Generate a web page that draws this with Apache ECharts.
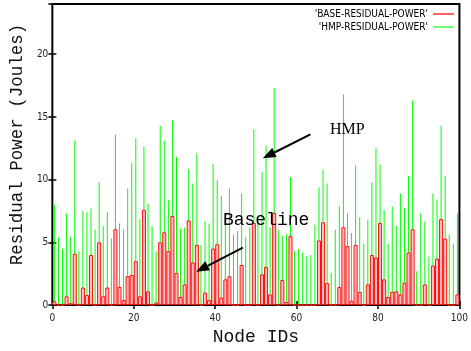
<!DOCTYPE html>
<html><head><meta charset="utf-8">
<script src="https://cdn.jsdelivr.net/npm/echarts@6/dist/echarts.min.js"></script>
<style>html,body{margin:0;padding:0;background:#fff}#c{width:471px;height:351px}</style>
</head><body><div id="c"></div>
<script>
// Residual power per node (Joules), node IDs 0..99
const baseResidual = [
  0.3, 0, 0, 0.7, 0.15, 4.1, 0, 1.4, 0.8, 4.0,
  0, 5.0, 0.7, 1.4, 0, 6.05, 1.45, 0.4, 2.3, 2.4,
  3.5, 0.7, 7.6, 1.1, 0, 0.2, 5.0, 5.8, 4.3, 7.1,
  2.55, 0.65, 1.65, 6.75, 3.4, 4.8, 0, 1.0, 0.4, 4.5,
  4.85, 0.6, 2.05, 2.3, 0, 0, 3.2, 0, 0, 6.55,
  0, 2.45, 3.05, 0.85, 7.35, 0, 2.0, 0.25, 5.5, 0,
  0, 0, 0, 0, 0, 5.15, 6.6, 1.75, 0, 0,
  1.45, 6.2, 4.7, 0.35, 4.8, 1.05, 0, 1.65, 4.0, 3.8,
  6.55, 2.05, 0.65, 1.05, 1.1, 0.85, 1.8, 4.2, 6.05, 0,
  0, 1.65, 0, 3.15, 3.7, 6.85, 5.3, 0, 0, 0.85
];
const hmpResidual = [
  8.0, 5.4, 4.5, 7.3, 5.45, 13.1, 4.3, 7.5, 7.4, 7.7,
  6.0, 9.8, 6.3, 7.4, 5.3, 13.6, 6.5, 6.0, 9.3, 11.3,
  13.3, 6.85, 12.65, 8.1, 6.3, 4.3, 14.3, 13.1, 8.35, 14.75,
  11.8, 6.1, 6.2, 10.85, 9.7, 12.1, 4.8, 6.7, 6.5, 11.25,
  9.95, 8.7, 6.6, 9.3, 5.6, 5.9, 8.9, 5.45, 6.2, 14.0,
  6.9, 10.6, 12.7, 6.2, 17.3, 6.0, 5.5, 5.65, 10.2, 4.3,
  4.5, 4.2, 3.9, 4.0, 6.4, 9.4, 10.8, 9.7, 2.55, 6.0,
  7.9, 16.8, 7.3, 5.75, 11.1, 7.0, 4.9, 6.8, 9.8, 12.5,
  11.2, 7.6, 4.9, 7.85, 6.3, 8.9, 7.75, 10.3, 16.3, 2.7,
  7.3, 6.65, 3.85, 8.9, 8.4, 14.3, 10.3, 5.6, 4.9, 7.3
];
const nodeIds = baseResidual.map((_, i) => String(i));
const seriesNames = ["'BASE-RESIDUAL-POWER'", "'HMP-RESIDUAL-POWER'"];
const xRange = [0, 100], xStep = 20;
const yRange = [0, 24], yStep = 5;

// annotation anchors in data coordinates
const hmpLabel = {text: 'HMP', at: [68.2, 14.0]};
const hmpArrow = {from: [63.4, 13.6], to: [51.7, 11.7]};
const baseLabel = {text: 'Baseline', at: [41.9, 6.75]};
const baseArrow = {from: [46.8, 4.58], to: [35.3, 2.66]};

const chart = echarts.init(document.getElementById('c'), null, {renderer: 'canvas'});
const narrow = "'Liberation Sans Narrow','DejaVu Sans Condensed',sans-serif";
const mono = "'Liberation Mono','DejaVu Sans Mono',monospace";
const tick = {show: true, inside: true, length: 4, lineStyle: {color: '#000', width: 1.5}};
const hiddenCat = {type: 'category', data: nodeIds, boundaryGap: true, show: false};

chart.setOption({
  animation: false,
  backgroundColor: '#fff',
  grid: {left: 52, right: 9, top: 4, bottom: 38, show: true, borderColor: '#000', borderWidth: 2, backgroundColor: 'transparent'},
  legend: {
    orient: 'vertical', right: 17, top: 8, align: 'right', padding: 0,
    itemWidth: 21, itemHeight: 1.5, itemGap: 1, icon: 'rect',
    textStyle: {fontFamily: narrow, fontSize: 10, color: '#000', lineHeight: 12},
    data: [
      {name: seriesNames[0], itemStyle: {color: '#ff3030', borderWidth: 0}},
      {name: seriesNames[1], itemStyle: {color: '#40ff40', borderWidth: 0}}
    ]
  },
  xAxis: [
    {type: 'value', position: 'bottom', min: xRange[0], max: xRange[1], interval: xStep,
     axisLine: {show: false}, splitLine: {show: false}, axisTick: tick,
     axisLabel: {fontFamily: narrow, fontSize: 10, color: '#222', margin: 8},
     name: 'Node IDs', nameLocation: 'middle', nameGap: 22,
     nameTextStyle: {fontFamily: mono, fontSize: 18, color: '#111'}},
    {type: 'value', position: 'top', min: xRange[0], max: xRange[1], interval: xStep,
     axisLine: {show: false}, splitLine: {show: false}, axisTick: tick, axisLabel: {show: false}},
    Object.assign({}, hiddenCat),
    Object.assign({}, hiddenCat)
  ],
  yAxis: [
    {type: 'value', position: 'left', min: yRange[0], max: yRange[1], interval: yStep,
     axisLine: {show: false}, splitLine: {show: false}, axisTick: tick,
     axisLabel: {fontFamily: narrow, fontSize: 10, color: '#222', margin: 4, showMaxLabel: false},
     name: 'Residual Power (Joules)', nameLocation: 'middle', nameGap: 22,
     nameTextStyle: {fontFamily: mono, fontSize: 17.5, color: '#111', padding: [0, 0, 0, 20]}},
    {type: 'value', position: 'right', min: yRange[0], max: yRange[1], interval: yStep,
     axisLine: {show: false}, splitLine: {show: false}, axisTick: tick,
     axisLabel: {show: false, showMaxLabel: false}}
  ],
  series: [
    {name: seriesNames[1], type: 'bar', xAxisIndex: 3, yAxisIndex: 0, data: hmpResidual,
     barWidth: 1, itemStyle: {color: '#00ff00'}, z: 2},
    {name: seriesNames[0], type: 'bar', xAxisIndex: 2, yAxisIndex: 0, data: baseResidual,
     barCategoryGap: '0%', itemStyle: {color: '#ffc0c0', borderColor: '#ff1010', borderWidth: 1}, z: 3}
  ]
});

function px(p) { return chart.convertToPixel({xAxisIndex: 0, yAxisIndex: 0}, p); }
function arrow(a) {
  const s = px(a.from), e = px(a.to);
  const dx = e[0] - s[0], dy = e[1] - s[1], L = Math.hypot(dx, dy);
  const ux = dx / L, uy = dy / L, hl = 13, hw = 5;
  const bx = e[0] - ux * hl, by = e[1] - uy * hl;
  return [
    {type: 'line', shape: {x1: s[0], y1: s[1], x2: bx, y2: by}, style: {stroke: '#000', lineWidth: 2}, z: 10},
    {type: 'polygon', shape: {points: [[e[0], e[1]], [bx - uy * hw, by + ux * hw], [bx + uy * hw, by - ux * hw]]},
     style: {fill: '#000'}, z: 10}
  ];
}
const hp = px(hmpLabel.at), bp = px(baseLabel.at);
chart.setOption({graphic: [
  {type: 'text', x: hp[0], y: hp[1], style: {text: hmpLabel.text, fontFamily: "'Liberation Serif','DejaVu Serif',serif", fontSize: 16, fill: '#000', verticalAlign: 'middle', align: 'left'}, z: 10},
  {type: 'text', x: bp[0], y: bp[1], style: {text: baseLabel.text, fontFamily: mono, fontSize: 18, fill: '#000', verticalAlign: 'middle', align: 'left'}, z: 10}
].concat(arrow(hmpArrow), arrow(baseArrow))});
</script></body></html>
